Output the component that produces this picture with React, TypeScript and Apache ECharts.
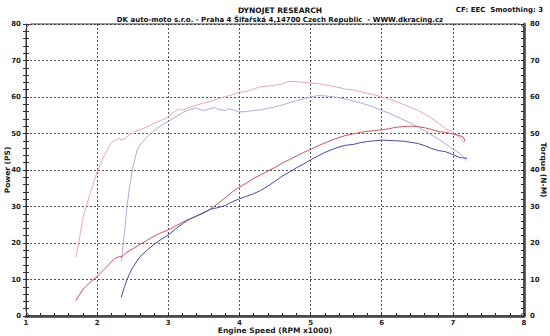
import React, { useEffect, useRef } from "react";
import * as echarts from "echarts";

const xTicks = [1, 2, 3, 4, 5, 6, 7, 8];

const powerRunA: [number, number][] = [
  [1.7, 16], [1.75, 21], [1.8, 27], [1.9, 33.5], [2.0, 39.5], [2.1, 44], [2.2, 47.5], [2.3, 48.6], [2.35, 48.2],
  [2.4, 48.8], [2.5, 50.3], [2.6, 51], [2.7, 51.8], [2.8, 52.8], [2.9, 53.6], [3.0, 54.6], [3.1, 56.2], [3.15, 56.8],
  [3.2, 56.4], [3.3, 57.2], [3.4, 57.8], [3.5, 58.4], [3.6, 58.9], [3.7, 59.5], [3.8, 60.1], [3.9, 60.6], [4.0, 61.3],
  [4.1, 61.5], [4.2, 62.2], [4.3, 62.8], [4.4, 63.0], [4.5, 63.2], [4.6, 63.6], [4.7, 64.3], [4.8, 64.2], [4.9, 64.0],
  [5.0, 63.8], [5.1, 63.7], [5.2, 63.3], [5.3, 63.0], [5.4, 62.6], [5.5, 62.1], [5.6, 62.0], [5.7, 61.5], [5.8, 61.0],
  [5.9, 60.6], [6.0, 60.0], [6.1, 59.5], [6.2, 58.8], [6.3, 58.0], [6.4, 57.2], [6.5, 56.4], [6.6, 55.3], [6.7, 54.2],
  [6.8, 52.8], [6.9, 51.3], [7.0, 50.5], [7.05, 49.5], [7.1, 49], [7.15, 47.5],
];

const powerRunB: [number, number][] = [
  [2.34, 15], [2.38, 22], [2.42, 30], [2.46, 36], [2.5, 40.5], [2.56, 45.3], [2.6, 46.8], [2.7, 49], [2.8, 50.8],
  [2.9, 52.2], [3.0, 53.3], [3.1, 54.5], [3.2, 55.7], [3.3, 56.6], [3.4, 57.0], [3.45, 56.5], [3.5, 56.3], [3.6, 56.9],
  [3.65, 57.1], [3.7, 56.6], [3.8, 56.3], [3.85, 56.8], [3.9, 56.5], [4.0, 55.9], [4.1, 56.0], [4.2, 56.3], [4.3, 56.5],
  [4.4, 56.9], [4.5, 57.3], [4.6, 57.8], [4.7, 58.4], [4.8, 59.0], [4.9, 59.5], [5.0, 60.0], [5.1, 60.4], [5.2, 60.3],
  [5.3, 60.1], [5.4, 59.8], [5.5, 59.4], [5.6, 58.9], [5.7, 58.4], [5.8, 57.8], [5.9, 57.1], [6.0, 56.3], [6.1, 55.6],
  [6.2, 54.7], [6.3, 53.8], [6.4, 52.9], [6.5, 51.9], [6.6, 50.8], [6.7, 49.6], [6.8, 48.4], [6.9, 47.1], [7.0, 45.8],
  [7.1, 44.5], [7.15, 43.6], [7.2, 42.5],
];

const torqueRunA: [number, number][] = [
  [1.7, 4.2], [1.8, 7.3], [1.9, 9.2], [2.0, 10.8], [2.1, 12.8], [2.2, 14.8], [2.25, 15.8], [2.3, 16.2], [2.35, 16.3],
  [2.4, 17.2], [2.5, 18.4], [2.6, 19.6], [2.7, 20.7], [2.8, 21.9], [2.9, 22.8], [3.0, 23.6], [3.1, 24.6], [3.2, 25.7],
  [3.3, 26.6], [3.4, 27.4], [3.5, 28.2], [3.6, 29.4], [3.7, 30.8], [3.8, 32.4], [3.9, 34.0], [4.0, 35.3], [4.1, 36.4],
  [4.2, 37.7], [4.3, 38.7], [4.4, 39.7], [4.5, 40.7], [4.6, 41.9], [4.7, 42.8], [4.8, 43.8], [4.9, 44.8], [5.0, 45.6],
  [5.1, 46.6], [5.2, 47.4], [5.3, 48.2], [5.4, 48.9], [5.5, 49.5], [5.6, 49.9], [5.7, 50.3], [5.8, 50.6], [5.9, 50.8],
  [6.0, 51.0], [6.1, 51.3], [6.2, 51.7], [6.3, 51.9], [6.4, 52.0], [6.5, 51.9], [6.6, 51.6], [6.7, 51.1], [6.8, 50.5],
  [6.9, 50.3], [7.0, 49.9], [7.1, 49.4], [7.15, 49.0], [7.17, 47.8],
];

const torqueRunB: [number, number][] = [
  [2.34, 5.1], [2.38, 7.8], [2.42, 9.9], [2.46, 11.8], [2.5, 13.3], [2.6, 16.2], [2.7, 18.0], [2.8, 19.6], [2.9, 21.0],
  [3.0, 22.2], [3.1, 23.8], [3.2, 25.3], [3.3, 26.5], [3.4, 27.4], [3.5, 28.4], [3.6, 29.3], [3.7, 29.7], [3.8, 30.3],
  [3.9, 31.3], [4.0, 32.1], [4.1, 32.8], [4.2, 33.5], [4.3, 34.4], [4.4, 35.6], [4.5, 36.9], [4.6, 38.3], [4.7, 39.4],
  [4.8, 40.6], [4.9, 41.6], [5.0, 42.8], [5.1, 43.8], [5.2, 44.8], [5.3, 45.6], [5.4, 46.3], [5.5, 46.8], [5.6, 47.0],
  [5.7, 47.5], [5.8, 47.8], [5.9, 48.0], [6.0, 48.2], [6.1, 48.1], [6.2, 48.0], [6.3, 47.9], [6.4, 47.6], [6.5, 47.3],
  [6.6, 46.7], [6.7, 45.9], [6.8, 45.3], [6.9, 45.0], [7.0, 44.2], [7.1, 43.4], [7.2, 43.2],
];

const titleText = "DYNOJET RESEARCH";
const subtitleText = "DK auto-moto s.r.o. - Praha 4 Šifařská 4,14700 Czech Republic  - WWW.dkracing.cz";
const cornerText = "CF: EEC  Smoothing: 3";

export default function App() {
  const ref = useRef<HTMLDivElement>(null);
  useEffect(() => {
    if (!ref.current) return;
    const chart = echarts.init(ref.current, null, { renderer: "svg" });
    const font = "DejaVu Sans";
    const labelStyle = { fontFamily: font, fontSize: 7, fontWeight: "bold" as const, color: "#222" };
    const split = { show: true, lineStyle: { color: "#555", width: 1, type: [2, 2] as number[] } };
    const L = 26, R = 524, T = 24, B = 316;
    chart.setOption({
      animation: false,
      backgroundColor: "#fff",
      grid: { left: L, right: 550 - R, top: T, bottom: 336 - B, containLabel: false, outerBoundsMode: "none" },
      title: [
        { text: titleText, left: 275, top: 1, textAlign: "center", textStyle: { ...labelStyle, fontSize: 7.5, color: "#111" } },
        { text: subtitleText, left: 275, top: 11, textAlign: "center", textStyle: { ...labelStyle, fontSize: 7, color: "#111" } },
        { text: cornerText, right: 2, top: 1, textStyle: { ...labelStyle, fontSize: 7, color: "#111" } },
      ],
      xAxis: {
        type: "value", min: 1, max: 8, interval: 1,
        name: "Engine Speed (RPM x1000)", nameLocation: "middle", nameGap: 10, nameMoveOverlap: false,
        nameTextStyle: { ...labelStyle, fontSize: 7.5 },
        axisLine: { show: true, onZero: false, lineStyle: { color: "#666", width: 3 } },
        axisTick: { show: true, inside: true, length: 3, lineStyle: { color: "#222", width: 1 } },
        minorTick: { show: true, splitNumber: 5, length: 3, lineStyle: { color: "#222", width: 1 } },
        axisLabel: { ...labelStyle, margin: 3, formatter: (v: number) => (xTicks.includes(v) ? String(v) : "") },
        splitLine: split,
      },
      yAxis: [
        {
          type: "value", min: 0, max: 80, interval: 10, position: "left",
          name: "Power (PS)", nameLocation: "middle", nameGap: 15, nameRotate: 90, nameMoveOverlap: false,
          nameTextStyle: { ...labelStyle, fontSize: 7.5 },
          axisLine: { show: true, lineStyle: { color: "#333", width: 1 } },
          axisTick: { show: true, length: 3, lineStyle: { color: "#333" } },
          minorTick: { show: true, splitNumber: 5, length: 3, lineStyle: { color: "#333" } },
          axisLabel: { ...labelStyle, margin: 5 },
          splitLine: split,
        },
        {
          type: "value", min: 0, max: 80, interval: 10, position: "left",
          axisLine: { show: false },
          axisTick: { show: true, inside: true, length: 3, lineStyle: { color: "#333" } },
          minorTick: { show: true, splitNumber: 5, length: 3, lineStyle: { color: "#333" } },
          axisLabel: { show: false },
          splitLine: { show: false },
        },
        {
          type: "value", min: 0, max: 80, interval: 10, position: "right",
          name: "Torque (N-M)", nameLocation: "middle", nameGap: 15, nameRotate: -90, nameMoveOverlap: false,
          nameTextStyle: { ...labelStyle, fontSize: 7.5 },
          axisLine: { show: true, lineStyle: { color: "#666", width: 3 } },
          axisTick: { show: true, inside: true, length: 3, lineStyle: { color: "#222" } },
          minorTick: { show: true, splitNumber: 5, length: 3, lineStyle: { color: "#222" } },
          axisLabel: { ...labelStyle, margin: 6 },
          splitLine: { show: false },
        },
      ],
      graphic: [
        {
          type: "rect", z: 5, silent: true,
          shape: { x: L, y: T, width: R - L, height: B - T, r: 6 },
          style: { fill: "none", stroke: "#333", lineWidth: 1 },
        },
      ],
      series: [
        { type: "line", data: powerRunA, showSymbol: false, lineStyle: { color: "#eaa8ae", width: 1 } },
        { type: "line", data: powerRunB, showSymbol: false, lineStyle: { color: "#aeaae0", width: 1 } },
        { type: "line", data: torqueRunA, yAxisIndex: 2, showSymbol: false, lineStyle: { color: "#c9555a", width: 1 } },
        { type: "line", data: torqueRunB, yAxisIndex: 2, showSymbol: false, lineStyle: { color: "#4a48a0", width: 1 } },
      ],
    });
    return () => chart.dispose();
  }, []);
  return <div ref={ref} style={{ position: "fixed", left: 0, top: 0, width: 550, height: 336 }} />;
}
